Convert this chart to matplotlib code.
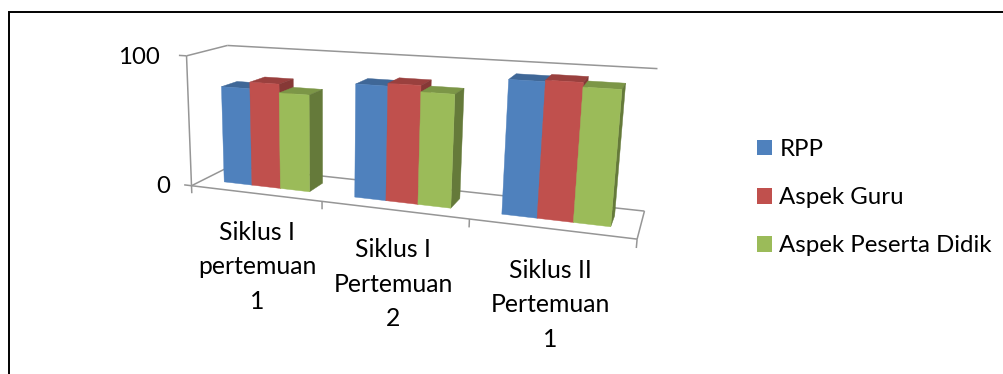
import numpy as np
import matplotlib
matplotlib.use("Agg")
import matplotlib.pyplot as plt
from matplotlib.patches import Polygon, Patch

# Chart data
categories = ["Siklus I\npertemuan\n1", "Siklus I\nPertemuan\n2", "Siklus II\nPertemuan\n1"]
series_names = ["RPP", "Aspek Guru", "Aspek Peserta Didik"]
rpp_values = [75, 84, 94]
guru_values = [80, 86, 95]
peserta_values = [73.5, 81.5, 92]
value_ticks = [0, 100]

FRONT = ["#4F81BD", "#C0504D", "#9BBB59"]
TOP = ["#3F6797", "#9A403E", "#7C9647"]
SIDE = ["#375A84", "#863836", "#657A3A"]
AXIS = "#969696"

W, H = 1004, 374
plt.rcParams["font.family"] = ["Lato", "DejaVu Sans"]
fig = plt.figure(figsize=(W / 100, H / 100), dpi=100)
ax = fig.add_axes([0, 0, 1, 1])
ax.set_xlim(0, W)
ax.set_ylim(H, 0)
ax.axis("off")

# Camera: a projective map from (category, depth, value) to pixels, solved
# from where the box corners of the 3-D chart sit on the canvas.
box_world = [(0, 0, 0), (3, 0, 0), (0, 1, 0), (3, 1, 0), (0, 0, 100), (0, 1, 100), (3, 1, 100)]
box_pixel = [(195, 184), (637, 241), (227, 168), (645, 209), (183, 56), (231, 45), (657, 69)]
rows, rhs = [], []
for (x, d, z), (u, v) in zip(box_world, box_pixel):
    rows.append([x, d, z, 1, 0, 0, 0, 0, -u * x, -u * d, -u * z])
    rhs.append(u)
    rows.append([0, 0, 0, 0, x, d, z, 1, -v * x, -v * d, -v * z])
    rhs.append(v)
sol = np.linalg.lstsq(np.array(rows, float), np.array(rhs, float), rcond=None)[0]
CAM = np.append(sol, 1.0).reshape(3, 4)


def project(x, d, z):
    p = CAM @ np.array([x, d, z, 1.0])
    return p[0] / p[2], p[1] / p[2]


def line3d(a, b, lw=1.1, zorder=1):
    pa, pb = project(*a), project(*b)
    ax.plot([pa[0], pb[0]], [pa[1], pb[1]], color=AXIS, lw=lw, zorder=zorder, solid_capstyle="butt")


# Back wall and floor outline
line3d((0, 1, 100), (3, 1, 100))
line3d((0, 0, 100), (0, 1, 100))
line3d((0, 1, 0), (3, 1, 0))
line3d((0, 0, 0), (0, 1, 0))
line3d((3, 0, 0), (3, 1, 0))
line3d((0, 0, 0), (3, 0, 0))
line3d((0, 0, 0), (0, 0, 100))

# Tick marks on the value axis and below the front floor edge
for v in value_ticks:
    line3d((0, 0, v), (-0.06, 0, v))
for i in range(len(categories) + 1):
    line3d((i, 0, 0), (i, 0, -6))

# Bars, painted left to right so nearer faces overlap correctly
series = [rpp_values, guru_values, peserta_values]
BAR_W = 1 / 4.5
GAP = BAR_W * 0.75
D0, D1 = 0.3, 0.7
for i in range(len(categories)):
    for s, vals in enumerate(series):
        x0 = i + GAP + s * BAR_W
        x1 = x0 + BAR_W
        z = vals[i]
        faces = [
            ([(x0, D0, z), (x1, D0, z), (x1, D1, z), (x0, D1, z)], TOP[s]),
            ([(x1, D0, 0), (x1, D1, 0), (x1, D1, z), (x1, D0, z)], SIDE[s]),
            ([(x0, D0, 0), (x1, D0, 0), (x1, D0, z), (x0, D0, z)], FRONT[s]),
        ]
        for pts, col in faces:
            ax.add_patch(Polygon([project(*p) for p in pts], closed=True, facecolor=col,
                                 edgecolor=col, lw=0.3, zorder=3))

# Tick labels
FS = 17.3
label_pos = [(257, 267), (393, 284), (550, 305)]
for text, (lx, ly) in zip(categories, label_pos):
    ax.text(lx, ly, text, ha="center", va="center", fontsize=17.8, color="black", linespacing=1.58)
ax.text(160, 57, "100", ha="right", va="center", fontsize=FS, color="black")
ax.text(170, 186, "0", ha="right", va="center", fontsize=FS, color="black")

# Legend
handles = [Patch(facecolor=c, edgecolor=c, lw=0) for c in FRONT]
ax.legend(handles, series_names, loc="upper left", bbox_to_anchor=(757, 139),
          bbox_transform=ax.transData, frameon=False, fontsize=FS, borderpad=0,
          borderaxespad=0, handlelength=0.63, handleheight=0.63, handletextpad=0.3,
          labelspacing=1.13, labelcolor="black")

# Outer frame
ax.plot([9, 9, W], [H, 12, 12], color="black", lw=1.4, solid_joinstyle="miter", zorder=5)

fig.savefig("out.png", dpi=100)
